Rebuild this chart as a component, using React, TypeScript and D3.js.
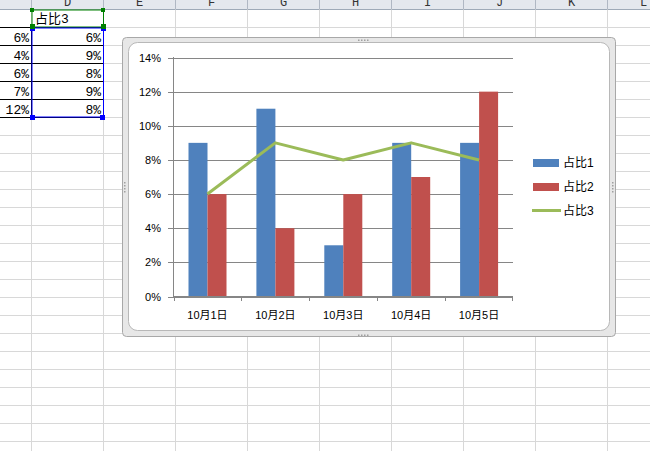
import React from "react";
import * as d3 from "d3";

const categories = ["10月1日", "10月2日", "10月3日", "10月4日", "10月5日"];
const seriesNames = ["占比1", "占比2", "占比3"];
const series1 = [9, 11, 3, 9, 9];
const series2 = [6, 4, 6, 7, 12];
const series3 = [6, 9, 8, 9, 8];
const yTicks = [0, 2, 4, 6, 8, 10, 12, 14];
const colLetters = ["D", "E", "F", "G", "H", "I", "J", "K", "L"];
const tableC = ["6%", "4%", "6%", "7%", "12%"];
const tableD = ["6%", "9%", "8%", "9%", "8%"];
const headerD = "占比3";

const colors = ["#4F81BD", "#C0504D", "#9BBB59"];
const W = 650, H = 451;
const FONT = "'Liberation Sans', Arial, 'Noto Sans CJK SC', sans-serif";
const CELLFONT = "'Liberation Mono', 'Noto Sans CJK SC', monospace";

export default function App() {
  const colX = d3.range(0, 10).map((i) => 31.5 + i * 72);
  const rowY = d3.range(0, 25).map((i) => 9.5 + i * 18);

  const x = d3.scaleBand<string>().domain(categories).range([173.5, 513]).padding(0);
  const xs = d3.scaleBand<string>().domain(["a", "b"]).range([15, 53]).padding(0);
  const y = d3.scaleLinear().domain([0, 14]).range([296.5, 57.5]);
  const line = d3
    .line<number>()
    .x((_, i) => (x(categories[i]) as number) + x.bandwidth() / 2)
    .y((d) => y(d));

  return (
    <div style={{ position: "absolute", left: 0, top: 0 }}>
      <svg width={W} height={H} style={{ display: "block" }}>
        <rect x={0} y={0} width={W} height={H} fill="#fff" />
        {/* header band */}
        <rect x={0} y={0} width={W} height={9.5} fill="#e4e8ee" />
        <line x1={0} x2={W} y1={9.5} y2={9.5} stroke="#9eaab8" />
        {colX.map((cx, i) => (
          <line key={"hc" + i} x1={cx} x2={cx} y1={0} y2={9.5} stroke="#b0b8c4" />
        ))}
        {colLetters.map((l, i) => (
          <text key={"hl" + i} x={colX[i] + 36} y={6} textAnchor="middle" fontFamily={CELLFONT} fontSize={12} fill="#333">
            {l}
          </text>
        ))}
        {/* grid */}
        {colX.map((cx, i) => (
          <line key={"gc" + i} x1={cx} x2={cx} y1={9.5} y2={H} stroke="#d8d8d8" />
        ))}
        {rowY.slice(1).map((ry, i) => (
          <line key={"gr" + i} x1={0} x2={W} y1={ry} y2={ry} stroke="#d8d8d8" />
        ))}
        {/* table borders */}
        {rowY.slice(1, 7).map((ry, i) => (
          <line key={"tb" + i} x1={0} x2={104} y1={ry} y2={ry} stroke="#000" />
        ))}
        <line x1={31.5} x2={31.5} y1={27.5} y2={117.5} stroke="#000" />
        {/* table text */}
        <text x={35} y={23} fontFamily={CELLFONT} fontSize={13} fill="#000">{headerD}</text>
        {tableC.map((t, i) => (
          <text key={"tc" + i} x={29} y={rowY[i + 1] + 14} textAnchor="end" fontFamily={CELLFONT} fontSize={13} fill="#000">{t}</text>
        ))}
        {tableD.map((t, i) => (
          <text key={"td" + i} x={101} y={rowY[i + 1] + 14} textAnchor="end" fontFamily={CELLFONT} fontSize={13} fill="#000">{t}</text>
        ))}
        {/* selections */}
        <rect x={32} y={10} width={71.5} height={17} fill="none" stroke="#008000" strokeWidth={1} />
        <rect x={32} y={28} width={71.5} height={89} fill="none" stroke="#0000ff" strokeWidth={1} />
        <rect x={30} y={8} width={4} height={4} fill="#008000" />
        <rect x={101} y={8} width={4} height={4} fill="#008000" />
        <rect x={30} y={24} width={5} height={5} fill="#008000" />
        <rect x={101} y={24} width={5} height={5} fill="#008000" />
        <rect x={30} y={29} width={5} height={2} fill="#0000ff" />
        <rect x={101} y={29} width={5} height={2} fill="#0000ff" />
        <rect x={30} y={115} width={5} height={5} fill="#0000ff" />
        <rect x={100} y={115} width={5} height={5} fill="#0000ff" />

        {/* chart frame */}
        <rect x={122.5} y={37.5} width={493} height={299} rx={4} fill="#e7e7e7" stroke="#a8a8a8" />
        <rect x={128.5} y={42.5} width={481} height={288} rx={9} fill="#fff" stroke="#b8b8b8" />
        {[[363, 39.5], [363, 334.5]].map(([hx, hy], k) => (
          <g key={"hh" + k}>
            {[0, 1, 2, 3].map((j) => (
              <rect key={j} x={hx - 5 + j * 3} y={hy} width={1.5} height={1.5} fill="#a0a0a0" />
            ))}
          </g>
        ))}
        {[[124, 187], [612, 187]].map(([hx, hy], k) => (
          <g key={"hv" + k}>
            {[0, 1, 2, 3].map((j) => (
              <rect key={j} x={hx} y={hy - 5 + j * 3} width={1.5} height={1.5} fill="#a0a0a0" />
            ))}
          </g>
        ))}

        {/* gridlines & y axis */}
        {yTicks.map((t) => (
          <g key={"yt" + t}>
            <line x1={168} x2={513} y1={Math.round(y(t)) + 0.5} y2={Math.round(y(t)) + 0.5} stroke="#868686" />
            <text x={161} y={y(t) + 4} textAnchor="end" fontFamily={FONT} fontSize={11} fill="#000">
              {t + "%"}
            </text>
          </g>
        ))}
        {/* bars */}
        {categories.map((c, i) => (
          <g key={"b" + i} transform={`translate(${x(c)},0)`}>
            <rect x={xs("a")} y={y(series1[i])} width={xs.bandwidth()} height={y(0) - y(series1[i])} fill={colors[0]} />
            <rect x={xs("b")} y={y(series2[i])} width={xs.bandwidth()} height={y(0) - y(series2[i])} fill={colors[1]} />
          </g>
        ))}
        <line x1={173.5} x2={173.5} y1={57} y2={297} stroke="#868686" />
        <line x1={173} x2={513} y1={296.5} y2={296.5} stroke="#868686" />
        {categories.map((c, i) => (
          <g key={"xt" + i}>
            <line x1={Math.round(x(c) as number) + 0.5} x2={Math.round(x(c) as number) + 0.5} y1={296} y2={301} stroke="#868686" />
            <text x={(x(c) as number) + x.bandwidth() / 2} y={319} textAnchor="middle" fontFamily={FONT} fontSize={11} fill="#000">
              {c}
            </text>
          </g>
        ))}
        <line x1={512.5} x2={512.5} y1={296} y2={301} stroke="#868686" />
        {/* line */}
        <path d={line(series3) || ""} fill="none" stroke={colors[2]} strokeWidth={3} strokeLinejoin="round" />

        {/* legend */}
        <rect x={533} y={159} width={26} height={8} fill={colors[0]} />
        <rect x={533} y={183} width={26} height={8} fill={colors[1]} />
        <line x1={532} x2={561} y1={210.5} y2={210.5} stroke={colors[2]} strokeWidth={3} />
        {seriesNames.map((s, i) => (
          <text key={"lg" + i} x={563} y={167 + i * 24} fontFamily={FONT} fontSize={12} fill="#000">
            {s}
          </text>
        ))}
      </svg>
    </div>
  );
}
